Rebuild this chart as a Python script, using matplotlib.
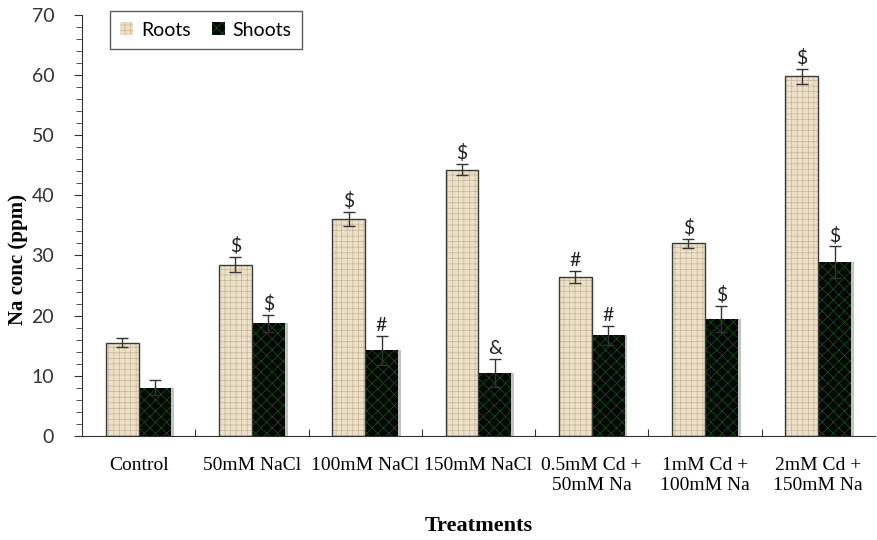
import numpy as np
import matplotlib.pyplot as plt

categories = ["Control", "50mM NaCl", "100mM NaCl", "150mM NaCl",
              "0.5mM Cd +\n50mM Na", "1mM Cd +\n100mM Na", "2mM Cd +\n150mM Na"]
roots = [15.5, 28.5, 36.1, 44.3, 26.4, 32.0, 59.8]
roots_err = [0.8, 1.2, 1.2, 0.9, 1.0, 0.8, 1.2]
shoots = [8.0, 18.7, 14.2, 10.5, 16.7, 19.4, 28.9]
shoots_err = [1.2, 1.4, 2.4, 2.3, 1.6, 2.2, 2.6]
roots_sig = ["", "$", "$", "$", "#", "$", "$"]
shoots_sig = ["", "$", "#", "&", "#", "$", "$"]

serif = "Liberation Serif"
sans = "Lato"

plt.rcParams['hatch.linewidth'] = 0.5
fig = plt.figure(figsize=(8.77, 5.40), dpi=100)
ax = fig.add_axes([0.0935, 0.193, 0.904, 0.779])

x = np.arange(len(categories))
w = 0.29

rb = ax.bar(x - w / 2, roots, w, color="#ece1c8", edgecolor="#c4b595", hatch="+++", linewidth=0, zorder=2)
ax.bar(x - w / 2, roots, w, color="none", edgecolor="#3a3a3a", linewidth=1.0, zorder=3)
# soft shadow to the right of the shoot bars
ax.bar(x + w / 2 + 0.025, shoots, w, color="#9a9a9a", alpha=0.6, linewidth=0, zorder=1)
sb = ax.bar(x + w / 2, shoots, w, color="#040704", edgecolor="#17591c", hatch="xxx", linewidth=0, zorder=2)

ax.errorbar(x - w / 2, roots, yerr=roots_err, fmt="none", ecolor="#333333", elinewidth=1, capsize=4, zorder=4)
ax.errorbar(x + w / 2, shoots, yerr=shoots_err, fmt="none", ecolor="#333333", elinewidth=1, capsize=4, zorder=4)

for i in range(len(x)):
    if roots_sig[i]:
        ax.text(x[i] - w / 2, roots[i] + roots_err[i] + 0.3, roots_sig[i], ha="center", va="bottom",
                fontsize=14, family=sans, color="#222222")
    if shoots_sig[i]:
        ax.text(x[i] + w / 2, shoots[i] + shoots_err[i] + 0.3, shoots_sig[i], ha="center", va="bottom",
                fontsize=14, family=sans, color="#222222")

ax.set_xlim(-0.5, 6.5)
ax.set_ylim(0, 70)
ax.spines["top"].set_visible(False)
ax.spines["right"].set_visible(False)
ax.spines["left"].set_color("#333333")
ax.spines["bottom"].set_color("#333333")

ax.set_yticks(np.arange(0, 71, 10))
ax.set_yticks(np.arange(0, 71, 2), minor=True)
ax.tick_params(axis="y", which="major", length=6, labelsize=14, colors="#333333", pad=14)
ax.tick_params(axis="y", which="minor", length=4, color="#333333")
for lab in ax.get_yticklabels():
    lab.set_family(sans)

ax.set_xticks(x[:-1] + 0.5)
ax.set_xticklabels([])
ax.set_xticks(x, minor=True)
ax.set_xticklabels(categories, minor=True, fontsize=14, family=serif, linespacing=1.25)
ax.tick_params(axis="x", which="major", direction="in", length=5, color="#333333")
ax.tick_params(axis="x", which="minor", length=0, pad=15)

ax.set_ylabel("Na conc (ppm)", fontsize=15, fontweight="bold", family=serif)
ax.yaxis.set_label_coords(-0.068, 0.42)
ax.set_xlabel("Treatments", fontsize=16, fontweight="bold", family=serif, labelpad=16)

leg = ax.legend([rb, sb], ["Roots", "Shoots"], loc="upper left", bbox_to_anchor=(0.035, 1.01),
                ncol=2, fancybox=False, edgecolor="#333333", prop={"family": sans, "size": 14},
                handlelength=0.65, handleheight=0.65, columnspacing=1.1, handletextpad=0.4,
                borderpad=0.55, borderaxespad=0)
leg.get_frame().set_linewidth(1.0)

fig.savefig("out.png", dpi=100)
